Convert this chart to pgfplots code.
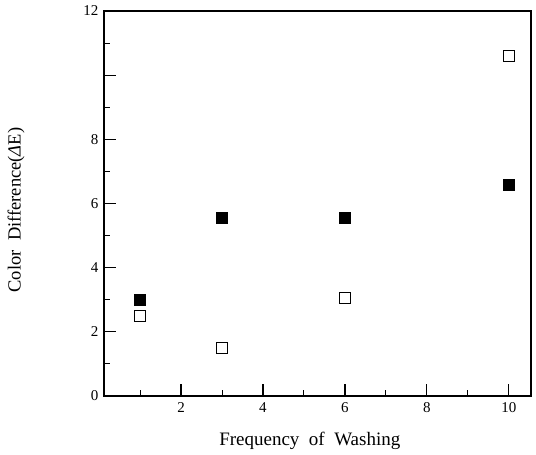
\documentclass[border=0pt]{standalone}
\usepackage{fontspec}
\setmainfont{Liberation Serif}
\usepackage{pgfplots}
\pgfplotsset{compat=1.18}
\begin{document}
\begin{tikzpicture}
\begin{axis}[
  scale only axis,
  width=427pt, height=385pt,
  xmin=0.12, xmax=10.54,
  ymin=0, ymax=12,
  xtick={2,4,6,8,10},
  ytick={0,2,4,6,8,10,12},
  yticklabels={0,2,4,6,8,,12},
  minor xtick={1,3,5,7,9},
  minor ytick={1,3,5,7,9,11},
  xtick pos=left, ytick pos=left,
  tick align=inside,
  major tick length=12pt,
  minor tick length=6pt,
  major tick style={black, line width=1.1pt},
  minor tick style={black, line width=1pt},
  axis line style={line width=1.2pt},
  tick label style={font=\fontsize{15}{17}\selectfont},
  /pgf/number format/assume math mode=true,
  xticklabel style={yshift=-3pt},
  yticklabel style={xshift=-2pt},
  xlabel={Frequency\ \ of\ \ Washing},
  ylabel={Color\ \ Difference(\textit{Δ}E)},
  xlabel style={font=\fontsize{19}{22}\selectfont, at={(axis description cs:0.482,-0.117)}, anchor=center},
  ylabel style={font=\fontsize{18.5}{22}\selectfont, at={(axis description cs:-0.206,0.483)}, anchor=center},
]
% filled squares
\addplot[only marks, mark=square*, mark size=5.5pt, black, mark options={fill=black}]
  coordinates {(1,3.0) (3,5.55) (6,5.57) (10,6.6)};
% open squares
\addplot[only marks, mark=square, mark size=5.5pt, black, mark options={line width=0.9pt}]
  coordinates {(1,2.5) (3,1.5) (6,3.05) (10,10.6)};
\coordinate (sw) at (rel axis cs:0,0);
\coordinate (ne) at (rel axis cs:1,1);
\end{axis}
\pgfresetboundingbox
\path ([xshift=-104pt,yshift=-59pt]sw) rectangle ([xshift=5pt,yshift=11pt]ne);
\end{tikzpicture}
\end{document}
